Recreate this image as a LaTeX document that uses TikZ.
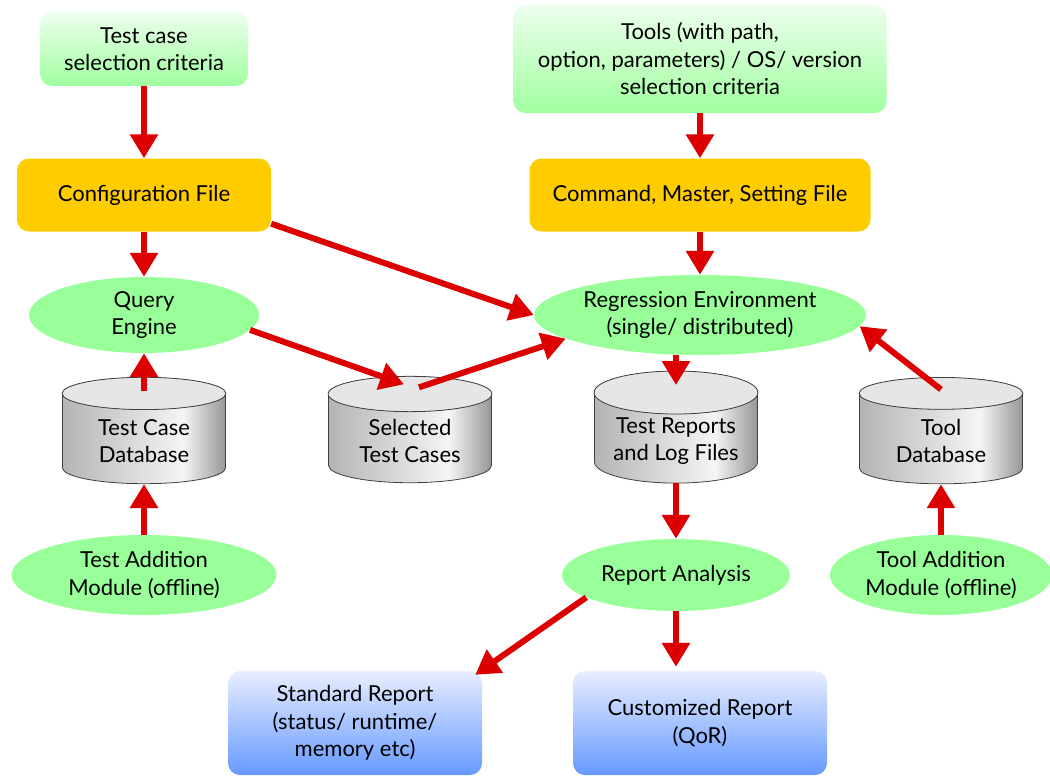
\documentclass[tikz,border=0pt]{standalone}
\usepackage{fontspec}
\setmainfont{Lato}
\usepackage{xcolor}
\usepackage{tikz}
\usetikzlibrary{shapes.geometric,arrows.meta,calc}

\definecolor{critlight}{RGB}{238,255,238}
\definecolor{critgreen}{RGB}{160,255,160}
\definecolor{modgreen}{RGB}{153,255,153}
\definecolor{fileorange}{RGB}{255,204,0}
\definecolor{replight}{RGB}{232,238,255}
\definecolor{repblue}{RGB}{102,153,255}
\definecolor{arrowred}{RGB}{221,0,0}
\definecolor{cylleft}{RGB}{180,180,180}
\definecolor{cylright}{RGB}{150,150,150}
\definecolor{cyltopfill}{RGB}{230,230,230}

\pgfdeclarehorizontalshading{cylshade}{100bp}{color(0bp)=(cylleft); color(25bp)=(cylleft); color(62bp)=(white!96!black); color(75bp)=(cylright); color(100bp)=(cylright)}

\begin{document}
\begin{tikzpicture}[x=1pt, y=1pt, node distance=120pt,
    every node/.style={align=center, font=\fontsize{22}{27.5}\selectfont},
    crit/.style={rectangle, rounded corners=12pt, top color=critlight, bottom color=critgreen},
    file/.style={rectangle, rounded corners=12pt, fill=fileorange, minimum height=73pt},
    module/.style={ellipse, fill=modgreen, inner sep=0pt},
    db/.style={cylinder, shape border rotate=90, aspect=0.32, draw=black!75, line width=0.8pt,
        shading=cylshade, minimum width=163pt, minimum height=106pt},
    report/.style={rectangle, rounded corners=12pt, top color=replight, bottom color=repblue,
        minimum width=254pt, minimum height=104pt},
    flow/.style={draw=arrowred, line width=6pt, -{Triangle[width=27pt,length=24pt]}}]
    \useasboundingbox (0,0) rectangle (1050,-776);

    % left column
    \node[crit, minimum width=208pt, minimum height=74pt] (crit1) at (144,-49) {Test case\\selection criteria};
    \node[file, minimum width=254pt] (config) [below of=crit1, yshift=-26] {Configuration File};
    \node[module, minimum width=230pt, minimum height=76pt] (query) [below of=config] {Query\\Engine};
    \node[db] (tdb) [below of=query, yshift=-6] {Test Case\\Database};
    \node[module, minimum width=265pt, minimum height=80pt] (testadd) [below of=tdb, yshift=-14] {Test Addition\\Module (offline)};

    % right column
    \node[crit, minimum width=373pt, minimum height=108pt] (crit2) at (700,-59) {Tools (with path,\\option, parameters) / OS/ version\\selection criteria};
    \node[file, minimum width=341pt] (cmd) [below of=crit2, yshift=-16] {Command, Master, Setting File};
    \node[module, minimum width=332pt, minimum height=80pt] (regress) [below of=cmd] {Regression Environment\\(single/ distributed)};
    \node[db] (rep) [below of=regress, xshift=-24, yshift=-6] {Test Reports\\and Log Files};
    \node[db] (sel) [left of=rep, xshift=-146] {Selected\\Test Cases};
    \node[db] (tooldb) [right of=rep, xshift=145] {Tool\\Database};
    \node[module, minimum width=228pt, minimum height=72pt] (repana) [below of=rep, yshift=-14] {Report Analysis};
    \node[module, minimum width=222pt, minimum height=80pt] (tooladd) [below of=tooldb, yshift=-14] {Tool Addition\\Module (offline)};
    \node[report] (custrep) [below of=repana, xshift=24, yshift=-28] {Customized Report\\(QoR)};
    \node[report] (stdrep) [left of=custrep, xshift=-225] {Standard Report\\(status/ runtime/\\memory etc)};

    % cylinder lids
    \foreach \cyl in {tdb,sel,rep,tooldb}
        \filldraw[fill=cyltopfill, draw=black!75, line width=0.8pt]
            let \p1=(\cyl.before top), \p2=(\cyl.after top), \p3=(\cyl.top) in
            ($(\p1)!0.5!(\p2)$) ellipse ({abs(\x2-\x1)/2} and {\y3-(\y1+\y2)/2});

    \draw[flow] (crit1) -- (config);
    \draw[flow] (config) -- (query);
    \draw[flow] ([yshift=8]config.south east) -- (regress.west);
    \draw[flow] (crit2) -- (cmd);
    \draw[flow] (cmd.south) -- (cmd.south |- regress.north);
    \draw[flow] ([yshift=-14]tdb.north) -- (query);
    \draw[flow] (testadd) -- (tdb);
    \draw[flow] (query.-8) -- ([xshift=-6,yshift=-8]sel.north);
    \draw[flow] ([xshift=9,yshift=-11]sel.north) -- (regress.190);
    \draw[flow] (regress.south -| rep.north) -- ([yshift=-14]rep.north);
    \draw[flow] (rep) -- (repana);
    \draw[flow] (repana.194) -- ([xshift=-7,yshift=-4]stdrep.north east);
    \draw[flow] (repana.south) -- ([yshift=4]repana.south |- custrep.north);
    \draw[flow] ([yshift=-12]tooldb.north) -- (regress.-4);
    \draw[flow] (tooladd) -- (tooldb);
\end{tikzpicture}
\end{document}
